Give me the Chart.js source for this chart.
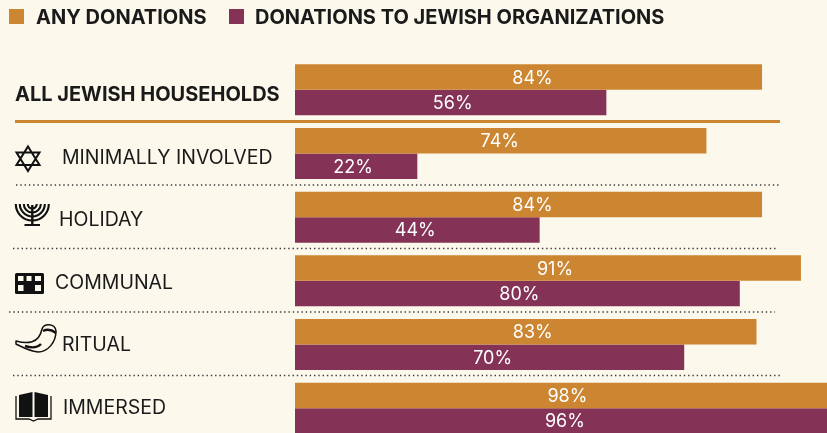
<!DOCTYPE html>
<html>
<head>
<meta charset="utf-8">
<script src="https://cdn.jsdelivr.net/npm/chart.js@4"></script>
<style>
    html, body { margin: 0; padding: 0; background: #FCF8EC; overflow: hidden; }
    #wrap { width: 827px; height: 433px; overflow: hidden; }
    canvas { display: block; }
</style>
</head>
<body>
<div id="wrap"><canvas id="chart_doacoes" width="851" height="440"></canvas></div>
<script>
const categorias = ['ALL JEWISH HOUSEHOLDS', 'MINIMALLY INVOLVED', 'HOLIDAY', 'COMMUNAL', 'RITUAL', 'IMMERSED'];
const nomesSeries = ['ANY DONATIONS', 'DONATIONS TO JEWISH ORGANIZATIONS'];
const anyDonations = [84, 74, 84, 91, 83, 98];
const jewishOrgs = [56, 22, 44, 80, 70, 96];

const LARANJA = '#CC8631';
const ROXO = '#843256';
const FUNDO = '#FCF8EC';
const TEXTO = '#1A1A1A';
const FONTE = 'Inter, "Open Sans", sans-serif';

// ajustes de posicao dos rotulos, o original nao e regular
const rotuloX = [15, 62, 59, 55, 62, 63];
const rotuloAjusteY = [4, 4, 2, 1, 0, -1];
const valorAjusteX = [
    [4, -1, 4, 7, 7, 0],
    [2, -3, -2, 2, 3, 3]
];

// icones desenhados a mao, cada um com origem no canto do proprio icone
const icones = [
    null,
    function (c) { // estrela
        c.lineWidth = 2;
        c.lineJoin = 'miter';
        c.beginPath();
        c.moveTo(13, 1.5); c.lineTo(24.5, 20); c.lineTo(1.5, 20); c.closePath();
        c.moveTo(13, 26); c.lineTo(24.5, 7.5); c.lineTo(1.5, 7.5); c.closePath();
        c.stroke();
    },
    function (c) { // menora
        c.lineWidth = 2.1;
        for (let r = 5; r <= 17; r += 4) {
            c.beginPath();
            c.arc(17.3, -1, r - 0.5, 0, Math.PI);
            c.stroke();
        }
        c.fillRect(16.1, 0, 2.4, 19);
        c.fillRect(9.5, 19, 15.5, 2);
    },
    function (c) { // predio
        c.beginPath();
        c.roundRect(0, 0, 29, 21, 1.5);
        c.fill();
        c.fillStyle = FUNDO;
        c.fillRect(3, 3, 5.5, 5); c.fillRect(11.5, 3, 5, 5); c.fillRect(20, 3, 6, 5);
        c.fillRect(3, 12, 5.5, 6); c.fillRect(20, 12, 6, 6);
    },
    function (c) { // shofar
        c.lineWidth = 1.5;
        c.lineJoin = 'round';
        c.beginPath();
        c.moveTo(1, 17);
        c.bezierCurveTo(12, 20, 24, 20, 27, 5);
        c.bezierCurveTo(29, -1, 40, -1, 41, 7);
        c.bezierCurveTo(41, 18, 33, 28, 23, 28);
        c.bezierCurveTo(14, 27, 7, 23, 1, 20);
        c.closePath();
        c.stroke();
        c.lineWidth = 2.4;
        c.beginPath();
        c.moveTo(28, 7); c.bezierCurveTo(32, 5, 37, 6, 41, 9);
        c.moveTo(26, 20); c.bezierCurveTo(22, 24, 16, 24, 10, 22);
        c.stroke();
    },
    function (c) { // livro
        c.beginPath();
        c.moveTo(4, 3); c.lineTo(17.5, 0); c.lineTo(17.5, 25); c.lineTo(4, 25); c.closePath();
        c.moveTo(19.5, 0); c.lineTo(33, 3); c.lineTo(33, 25); c.lineTo(19.5, 25); c.closePath();
        c.fill();
        c.lineWidth = 1.3;
        c.beginPath();
        c.moveTo(1, 4); c.lineTo(1, 27); c.lineTo(14, 27); c.lineTo(18.5, 29);
        c.lineTo(23, 27); c.lineTo(36, 27); c.lineTo(36, 4);
        c.stroke();
    }
];
const iconeX = [0, 15, 15, 15, 15, 15];
const iconeY = [0, 145, 205, 273, 324, 392];

// separadores: [y, inicio, fim]
const pontilhados = [[185, 16, 781], [248.5, 13, 778], [312, 9, 775], [375.5, 13, 780]];

const pluginDecoracao = {
    id: 'decoracao',
    beforeDatasetsDraw(chart) {
        const c = chart.ctx;
        c.save();
        c.fillStyle = LARANJA;
        c.fillRect(15, 120, 765, 3);
        c.strokeStyle = '#3A3A3A';
        c.lineWidth = 1.4;
        c.setLineDash([1.4, 2.9]);
        pontilhados.forEach(function (p) {
            c.beginPath();
            c.moveTo(p[1], p[0]);
            c.lineTo(p[2], p[0]);
            c.stroke();
        });
        c.restore();
    },
    afterDatasetsDraw(chart) {
        const c = chart.ctx;
        const x = chart.scales.x;
        const y = chart.scales.y;
        c.save();

        // legenda
        c.font = '700 20px ' + FONTE;
        c.textBaseline = 'middle';
        c.textAlign = 'left';
        c.fillStyle = LARANJA;
        c.fillRect(9, 9, 15, 15);
        c.fillStyle = ROXO;
        c.fillRect(229, 9, 15, 15);
        c.fillStyle = TEXTO;
        c.fillText(nomesSeries[0], 36, 18);
        c.fillText(nomesSeries[1], 255, 18);

        // rotulos das categorias
        categorias.forEach(function (nome, i) {
            c.font = (i == 0 ? '700 20px ' : '400 19.5px ') + FONTE;
            c.fillStyle = TEXTO;
            c.fillText(nome, rotuloX[i], y.getPixelForValue(i) + 1 + rotuloAjusteY[i]);
        });

        // icones
        c.strokeStyle = '#111111';
        icones.forEach(function (desenha, i) {
            if (!desenha) return;
            c.save();
            c.fillStyle = '#111111';
            c.translate(iconeX[i], iconeY[i]);
            desenha(c);
            c.restore();
        });

        // valores dentro das barras
        c.font = '400 18px ' + FONTE;
        c.textAlign = 'center';
        c.fillStyle = '#FFFFFF';
        chart.data.datasets.forEach(function (ds, d) {
            chart.getDatasetMeta(d).data.forEach(function (barra, i) {
                c.fillText(ds.data[i] + '%', x.getPixelForValue(ds.data[i] / 2) + valorAjusteX[d][i], barra.y + 1);
            });
        });
        c.restore();
    }
};

const config_doacoes = {
    type: 'bar',
    data: {
        labels: categorias,
        datasets: [
            { label: nomesSeries[0], data: anyDonations, backgroundColor: LARANJA },
            { label: nomesSeries[1], data: jewishOrgs, backgroundColor: ROXO }
        ]
    },
    options: {
        indexAxis: 'y',
        responsive: false,
        animation: false,
        categoryPercentage: 0.8,
        barPercentage: 1,
        layout: { padding: { left: 295, top: 58, right: 0, bottom: 0 } },
        scales: {
            x: { min: 0, max: 100, display: false },
            y: { display: false }
        },
        plugins: {
            legend: { display: false },
            tooltip: { enabled: false }
        }
    },
    plugins: [pluginDecoracao]
};

new Chart(document.getElementById('chart_doacoes'), config_doacoes);
</script>
</body>
</html>
